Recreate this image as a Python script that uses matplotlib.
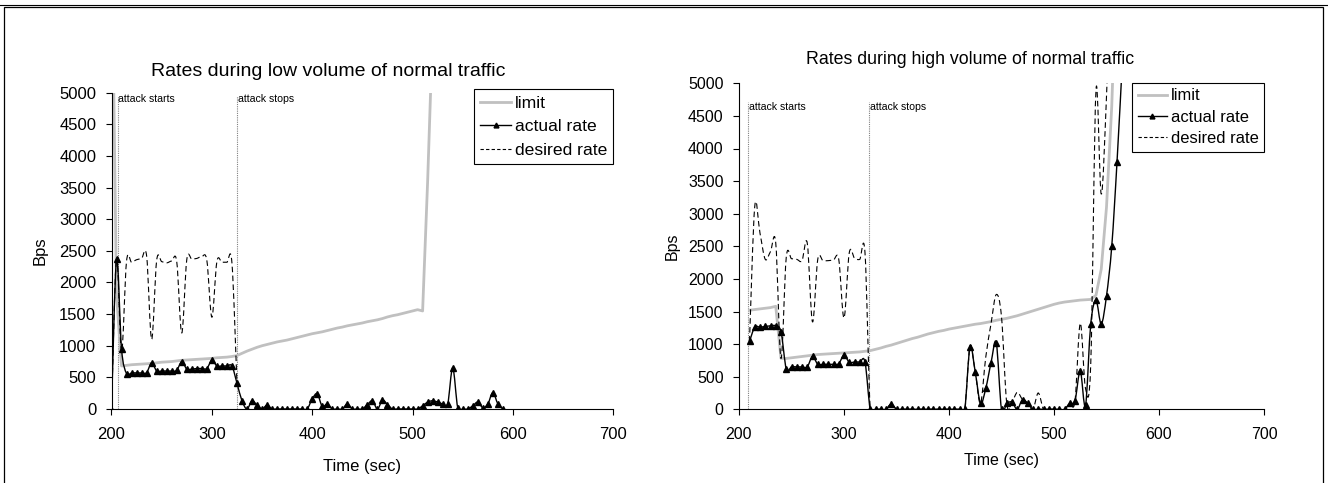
import numpy as np
import matplotlib
matplotlib.use('Agg')
import matplotlib.pyplot as plt
from matplotlib.path import Path
from matplotlib.patches import PathPatch, Rectangle
from matplotlib.lines import Line2D

plt.rcParams['font.family'] = ['Liberation Sans', 'DejaVu Sans']

# ---- low volume of normal traffic ----
low_actual_t = list(range(200, 595, 5))
low_actual = [0, 2370, 950, 560, 570, 570, 570, 575, 730, 600,
              600, 600, 600, 610, 750, 630, 630, 640, 640, 640,
              770, 680, 680, 680, 680, 410, 130, 0, 130, 60,
              0, 60, 0, 0, 0, 0, 0, 0, 0, 0,
              160, 240, 40, 80, 0, 0, 0, 80, 0, 0,
              0, 70, 130, 0, 140, 70, 0, 0, 0, 0,
              0, 0, 50, 110, 130, 110, 80, 80, 650, 20,
              0, 0, 50, 110, 20, 80, 260, 80, 0]
low_limit_t = list(range(200, 525, 5))
low_limit = [7700, 1800, 680, 690, 700, 705, 710, 715, 720, 730,
             740, 745, 750, 760, 770, 775, 780, 785, 790, 795,
             800, 810, 815, 820, 830, 845, 880, 915, 945, 975,
             1000, 1020, 1040, 1060, 1075, 1090, 1110, 1130, 1150, 1170,
             1190, 1205, 1220, 1240, 1260, 1280, 1295, 1315, 1330, 1345,
             1360, 1380, 1395, 1410, 1430, 1455, 1475, 1490, 1510, 1530,
             1550, 1570, 1550, 3600, 6000]
low_desired_t = list(range(200, 330, 5))
low_desired = [0, 2380, 900, 2340, 2320, 2360, 2380, 2420, 1100, 2350,
               2330, 2310, 2340, 2330, 1200, 2360, 2370, 2380, 2410, 2350,
               1450, 2330, 2320, 2320, 2310, 410]
low_attack_t = [206, 325]

# ---- high volume of normal traffic ----
high_actual_t = list(range(210, 570, 5))
high_actual = [1040, 1260, 1260, 1270, 1280, 1280, 1190, 620, 650, 650,
               650, 650, 810, 690, 690, 690, 690, 700, 830, 720,
               725, 725, 725, 0, 0, 0, 0, 80, 0, 0,
               0, 0, 0, 0, 0, 0, 0, 0, 0, 0,
               0, 0, 960, 570, 90, 320, 710, 1020, 0, 90,
               110, 0, 150, 90, 0, 0, 0, 0, 0, 0,
               0, 90, 130, 590, 60, 1310, 1670, 1310, 1740, 2500,
               3790, 5300]
high_limit_t = list(range(210, 565, 5))
high_limit = [1520, 1530, 1540, 1550, 1560, 1580, 780, 780, 790, 800,
              810, 820, 830, 840, 845, 850, 855, 860, 865, 870,
              875, 880, 890, 900, 920, 940, 965, 985, 1010, 1035,
              1060, 1085, 1105, 1130, 1155, 1175, 1195, 1210, 1230, 1245,
              1260, 1275, 1290, 1305, 1315, 1330, 1345, 1365, 1380, 1395,
              1415, 1435, 1460, 1485, 1510, 1535, 1560, 1585, 1610, 1630,
              1645, 1655, 1665, 1675, 1680, 1685, 1750, 2150, 3100, 4650,
              7000]
high_desired_t = list(range(210, 560, 5))
high_desired = [1040, 3110, 2700, 2300, 2420, 2550, 780, 2330, 2310, 2300,
                2280, 2550, 1340, 2300, 2280, 2280, 2290, 2300, 1400, 2400,
                2320, 2300, 2400, 0, 0, 0, 0, 80, 0, 0,
                0, 0, 0, 0, 0, 0, 0, 0, 0, 0,
                0, 0, 960, 570, 90, 800, 1310, 1760, 1420, 90,
                110, 260, 150, 90, 0, 250, 0, 0, 0, 0,
                0, 90, 130, 1320, 320, 700, 4900, 3300, 4800, 7000]
high_attack_t = [209, 324]

attack_labels = ['attack starts', 'attack stops']
legend_labels = ['limit', 'actual rate', 'desired rate']

W, H = 1328, 483


def smooth_path(x, y):
    # excel style smoothed line: cubic bezier through the points
    pts = np.column_stack([x, y]).astype(float)
    verts = [pts[0]]
    codes = [Path.MOVETO]
    n = len(pts)
    for i in range(n - 1):
        p0 = pts[max(i - 1, 0)]
        p1 = pts[i]
        p2 = pts[i + 1]
        p3 = pts[min(i + 2, n - 1)]
        verts += [p1 + (p2 - p0) / 6, p2 - (p3 - p1) / 6, p2]
        codes += [Path.CURVE4] * 3
    return Path(verts, codes)


def draw_panel(ax, lim_t, lim, act_t, act, des_t, des, attack_t, fs, att_y, att_top):
    # limit is a plain line, the rates are smoothed
    ax.plot(lim_t, lim, color='#c0c0c0', lw=2.0, zorder=2)
    ax.add_patch(PathPatch(smooth_path(act_t, act), fill=False, ec='black', lw=1.0, zorder=3))
    ax.plot(act_t, act, ls='none', marker='^', ms=4.8, color='black', zorder=4)
    ax.add_patch(PathPatch(smooth_path(des_t, des), fill=False, ec='black', lw=0.8,
                           ls=(0, (5, 3)), zorder=3))

    for t, lab in zip(attack_t, attack_labels):
        ax.plot([t, t], [0, att_top], color='#808080', lw=0.8, ls=(0, (1, 1)), zorder=1)
        ax.text(t + 0.7, att_y, lab, fontsize=7.6, ha='left', va='center')

    ax.set_xlim(200, 700)
    ax.set_ylim(0, 5000)
    ax.set_xticks(range(200, 800, 100))
    ax.set_yticks(range(0, 5500, 500))
    for s in ['top', 'right']:
        ax.spines[s].set_visible(False)
    for s in ['left', 'bottom']:
        ax.spines[s].set_linewidth(0.8)
    ax.tick_params(axis='both', direction='out', length=4, width=0.8, labelsize=fs)
    ax.tick_params(axis='x', pad=9)
    ax.tick_params(axis='y', pad=7)


def add_legend(ax, right_px, top_px, fs, spacing):
    handles = [Line2D([], [], color='#c0c0c0', lw=2.0),
               Line2D([], [], color='black', lw=1.0, marker='^', ms=3.5),
               Line2D([], [], color='black', lw=0.8, ls=(0, (3, 2)))]
    leg = ax.legend(handles, legend_labels, loc='upper right',
                    bbox_to_anchor=(right_px / W, 1 - top_px / H),
                    bbox_transform=ax.figure.transFigure, borderaxespad=0,
                    fancybox=False, edgecolor='black', framealpha=1,
                    fontsize=fs, handlelength=1.8, handletextpad=0.2,
                    labelspacing=spacing, borderpad=0.35)
    leg.get_frame().set_linewidth(0.8)


fig = plt.figure(figsize=(W / 100, H / 100), dpi=100)

ax1 = fig.add_axes([111.5 / W, 1 - 409 / H, (613.3 - 111.5) / W, (409 - 92.7) / H])
draw_panel(ax1, low_limit_t, low_limit, low_actual_t, low_actual,
           low_desired_t, low_desired, low_attack_t, 12, 4900, 4950)
add_legend(ax1, 613.3, 89.3, 12.6, 0.48)
fig.text(328 / W, 1 - 71 / H, 'Rates during low volume of normal traffic',
         fontsize=14, ha='center', va='center')
fig.text(362.5 / W, 1 - 466 / H, 'Time (sec)', fontsize=12, ha='center', va='center')
fig.text(40 / W, 1 - 251 / H, 'Bps', fontsize=12, rotation=90, ha='center', va='center')

ax2 = fig.add_axes([739 / W, 1 - 409.3 / H, (1264 - 739) / W, (409.3 - 83.3) / H])
draw_panel(ax2, high_limit_t, high_limit, high_actual_t, high_actual,
           high_desired_t, high_desired, high_attack_t, 11.5, 4640, 4720)
add_legend(ax2, 1264.3, 82.7, 11.9, 0.38)
fig.text(970 / W, 1 - 59 / H, 'Rates during high volume of normal traffic',
         fontsize=12.8, ha='center', va='center')
fig.text(1001.5 / W, 1 - 461 / H, 'Time (sec)', fontsize=11.5, ha='center', va='center')
fig.text(672 / W, 1 - 246 / H, 'Bps', fontsize=11.5, rotation=90, ha='center', va='center')

# outer frame of the figure box
fig.add_artist(Rectangle((4 / W, -0.05), 1319 / W, 1.05 - 7 / H, fill=False,
                         ec='black', lw=0.9, transform=fig.transFigure))
fig.add_artist(Line2D([0, 1], [1 - 4.5 / H] * 2, color='black', lw=0.8,
                      transform=fig.transFigure))

fig.savefig('out.png', dpi=100)
